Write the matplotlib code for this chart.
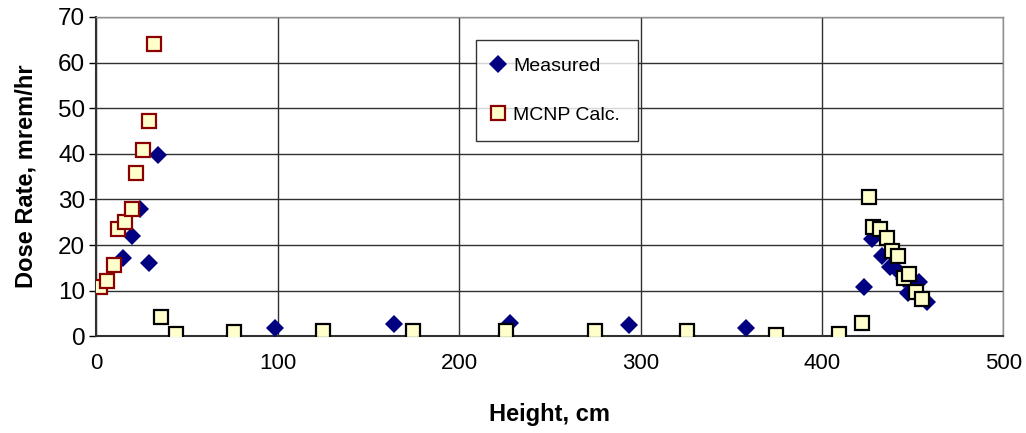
import matplotlib.pyplot as plt

plt.rcParams['font.family'] = ['Liberation Sans', 'DejaVu Sans']

# Measured dose rate
meas_x = [14.7, 19.5, 24.2, 29.2, 34.2, 98.4, 163.9, 228.0, 293.5, 357.9,
          423.1, 427.7, 433.1, 437.7, 440.8, 445.0, 447.4, 450.5, 453.3, 457.9]
meas_y = [17.2, 22.0, 28.0, 16.1, 39.8, 1.9, 2.7, 2.9, 2.4, 1.9,
          10.8, 21.3, 17.7, 15.2, 14.7, 12.5, 9.5, 11.0, 12.0, 7.6]

# MCNP calculation, near-bottom group (red edge)
calc_x1 = [2.0, 5.7, 9.5, 12.1, 15.8, 19.5, 21.9, 25.5, 29.2, 31.6]
calc_y1 = [10.8, 12.2, 15.7, 23.5, 25.1, 28.0, 35.9, 40.8, 47.1, 64.0]

# MCNP calculation, rest (black edge)
calc_x2 = [35.4, 44.1, 76.0, 125.1, 174.7, 225.7, 275.0, 325.5, 374.8,
           409.5, 422.0, 425.7, 428.0, 431.9, 435.8, 438.3, 441.9, 445.2,
           448.1, 451.7, 455.2]
calc_y2 = [4.3, 0.5, 0.9, 1.3, 1.3, 1.3, 1.3, 1.3, 0.3,
           0.5, 2.9, 30.5, 24.0, 23.5, 21.6, 18.8, 17.7, 12.8,
           13.7, 9.8, 8.2]

fig = plt.figure(figsize=(10.26, 4.33), dpi=100)
ax = fig.add_axes([0.094, 0.223, 0.884, 0.738])

ax.plot(meas_x, meas_y, 'D', color='#000080', markersize=9,
        markeredgewidth=0, label='Measured', zorder=3)
ax.plot(calc_x1, calc_y1, 's', markerfacecolor='#FFFFCC', markeredgecolor='#8B0000',
        markersize=10, markeredgewidth=1.6, label='MCNP Calc.', zorder=4)
ax.plot(calc_x2, calc_y2, 's', markerfacecolor='#FFFFCC', markeredgecolor='black',
        markersize=10, markeredgewidth=1.6, zorder=4)

ax.set_xlim(0, 500)
ax.set_ylim(0, 70)
ax.set_xticks(range(0, 501, 100))
ax.set_yticks(range(0, 71, 10))
ax.grid(True, color='#303030', linewidth=1.0)
ax.set_axisbelow(True)
for s in ax.spines.values():
    s.set_color('#303030')
    s.set_linewidth(1.0)
ax.spines['top'].set_color('#909090')
ax.spines['right'].set_color('#909090')
ax.spines['bottom'].set_linewidth(1.5)
ax.spines['left'].set_linewidth(1.5)
ax.tick_params(axis='y', length=5, width=1, labelsize=17.5, pad=3)
ax.tick_params(axis='x', length=0, labelsize=16, pad=12)

ax.set_xlabel('Height, cm', fontsize=17, fontweight='bold', labelpad=21)
ax.set_ylabel('Dose Rate, mrem/hr', fontsize=17, fontweight='bold', labelpad=15)

leg = ax.legend(loc='upper left', bbox_to_anchor=(0.419, 0.928), borderaxespad=0,
                fontsize=14, frameon=True, fancybox=False, edgecolor='black',
                borderpad=0.9, labelspacing=1.6, handletextpad=0.6,
                handlelength=0.4)
leg.get_frame().set_linewidth(1.0)

fig.savefig('out.png', dpi=100)
